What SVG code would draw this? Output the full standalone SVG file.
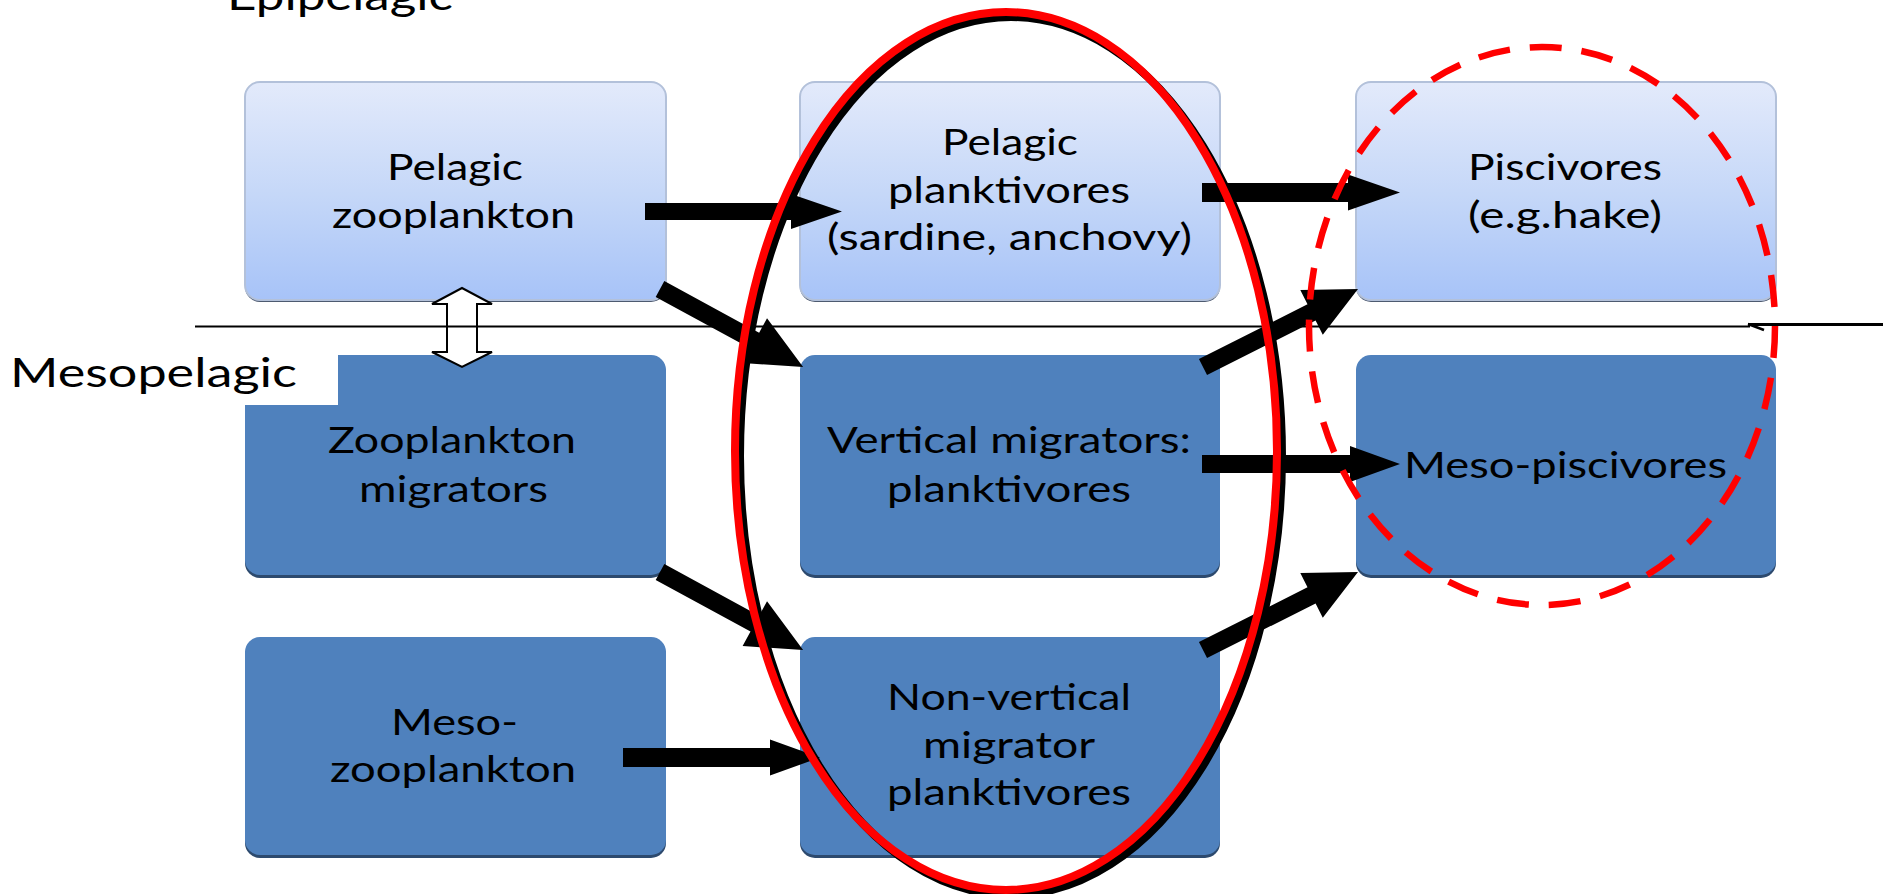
<svg xmlns="http://www.w3.org/2000/svg" width="1883" height="894" viewBox="0 0 1883 894">
<defs>
<linearGradient id="gLight" x1="0" y1="0" x2="0" y2="1">
<stop offset="0" stop-color="#e3eafb"/>
<stop offset="0.5" stop-color="#c6d8f8"/>
<stop offset="1" stop-color="#a7c3f8"/>
</linearGradient>
</defs>
<style>
.shL{fill:#4d5a70}
.boxL{fill:url(#gLight);stroke:#b3c1da;stroke-width:2}
.shD{fill:#2d4a6e}
.boxD{fill:#4f81bd}
.t{font-family:Lato,"Open Sans","Liberation Sans",sans-serif;font-size:36px;fill:#000}
.tl{font-family:Lato,"Open Sans","Liberation Sans",sans-serif;font-size:41px;fill:#000}
.blk{fill:#000}
</style>
<rect width="1883" height="894" fill="#fff"/>

<text class="tl" x="227" y="10" textLength="226" lengthAdjust="spacingAndGlyphs">Epipelagic</text>

<g id="n-pelagic-zooplankton">
<rect class="shL" x="245" y="84" width="421" height="218" rx="15"/>
<rect class="boxL" x="245" y="82" width="421" height="218" rx="15"/>
<text class="t" x="387" y="180" textLength="136" lengthAdjust="spacingAndGlyphs">Pelagic</text>
<text class="t" x="332" y="228" textLength="243" lengthAdjust="spacingAndGlyphs">zooplankton</text>
</g>
<g id="n-pelagic-planktivores">
<rect class="shL" x="800" y="84" width="420" height="218" rx="15"/>
<rect class="boxL" x="800" y="82" width="420" height="218" rx="15"/>
<text class="t" x="942" y="155" textLength="136" lengthAdjust="spacingAndGlyphs">Pelagic</text>
<text class="t" x="888" y="203" textLength="242" lengthAdjust="spacingAndGlyphs">planktivores</text>
<text class="t" x="827" y="250" textLength="365" lengthAdjust="spacingAndGlyphs">(sardine, anchovy)</text>
</g>
<g id="n-piscivores">
<rect class="shL" x="1356" y="84" width="420" height="218" rx="15"/>
<rect class="boxL" x="1356" y="82" width="420" height="218" rx="15"/>
<text class="t" x="1468" y="180" textLength="194" lengthAdjust="spacingAndGlyphs">Piscivores</text>
<text class="t" x="1468" y="228" textLength="194" lengthAdjust="spacingAndGlyphs">(e.g.hake)</text>
</g>
<g id="n-zooplankton-migrators">
<rect class="shD" x="245" y="358" width="421" height="220" rx="15"/>
<rect class="boxD" x="245" y="355" width="421" height="220" rx="15"/>
<text class="t" x="328" y="453" textLength="248" lengthAdjust="spacingAndGlyphs">Zooplankton</text>
<text class="t" x="359" y="502" textLength="189" lengthAdjust="spacingAndGlyphs">migrators</text>
</g>
<g id="n-vertical-migrators">
<rect class="shD" x="800" y="358" width="420" height="220" rx="15"/>
<rect class="boxD" x="800" y="355" width="420" height="220" rx="15"/>
<text class="t" x="827" y="453" textLength="364" lengthAdjust="spacingAndGlyphs">Vertical migrators:</text>
<text class="t" x="887" y="502" textLength="244" lengthAdjust="spacingAndGlyphs">planktivores</text>
</g>
<g id="n-meso-piscivores">
<rect class="shD" x="1356" y="358" width="420" height="220" rx="15"/>
<rect class="boxD" x="1356" y="355" width="420" height="220" rx="15"/>
<text class="t" x="1404" y="478" textLength="323" lengthAdjust="spacingAndGlyphs">Meso-piscivores</text>
</g>
<g id="n-meso-zooplankton">
<rect class="shD" x="245" y="640" width="421" height="218" rx="15"/>
<rect class="boxD" x="245" y="637" width="421" height="218" rx="15"/>
<text class="t" x="391" y="735" textLength="127" lengthAdjust="spacingAndGlyphs">Meso-</text>
<text class="t" x="330" y="782" textLength="246" lengthAdjust="spacingAndGlyphs">zooplankton</text>
</g>
<g id="n-non-vertical">
<rect class="shD" x="800" y="640" width="420" height="218" rx="15"/>
<rect class="boxD" x="800" y="637" width="420" height="218" rx="15"/>
<text class="t" x="887" y="710" textLength="244" lengthAdjust="spacingAndGlyphs">Non-vertical</text>
<text class="t" x="923" y="758" textLength="172" lengthAdjust="spacingAndGlyphs">migrator</text>
<text class="t" x="887" y="805" textLength="244" lengthAdjust="spacingAndGlyphs">planktivores</text>
</g>

<g id="mesopelagic-label">
<rect x="0" y="343" width="338" height="62" fill="#fff"/>
<text class="tl" x="10" y="387" textLength="287" lengthAdjust="spacingAndGlyphs">Mesopelagic</text>
</g>

<g id="connectors">
<polygon points="462,288 492,304 477,304 477,352 492,352 462,367 432,352 447,352 447,304 432,304" fill="#fff" stroke="#000" stroke-width="2"/>
<line x1="195" y1="326.5" x2="1750" y2="326.5" stroke="#000" stroke-width="2"/>
<line x1="1883" y1="324.5" x2="1748" y2="324.5" stroke="#000" stroke-width="3"/>
<line x1="1748" y1="324" x2="1764" y2="330" stroke="#000" stroke-width="2.5"/>
<g transform="translate(645,211.5)"><polygon class="blk" points="0,-8.5 146,-8.5 146,-17.5 197,0 146,17.5 146,8.5 0,8.5"/></g>
<g transform="translate(1202,192.5)"><polygon class="blk" points="0,-9.5 146,-9.5 146,-18 198,0 146,18 146,9.5 0,9.5"/></g>
<g transform="translate(660,289) rotate(28.6)"><polygon class="blk" points="0,-9 108,-9 108,-25.5 163,0 108,25.5 108,9 0,9"/></g>
<g transform="translate(660,572) rotate(28.6)"><polygon class="blk" points="0,-9 108,-9 108,-25.5 163,0 108,25.5 108,9 0,9"/></g>
<g transform="translate(623,757.5)"><polygon class="blk" points="0,-9.5 147,-9.5 147,-18 197,0 147,18 147,9.5 0,9.5"/></g>
<g transform="translate(1203,367) rotate(-26.7)"><polygon class="blk" points="0,-9 121.5,-9 121.5,-25 173.5,0 121.5,25 121.5,9 0,9"/></g>
<g transform="translate(1203,650) rotate(-26.7)"><polygon class="blk" points="0,-9 121.5,-9 121.5,-25 173.5,0 121.5,25 121.5,9 0,9"/></g>
<g transform="translate(1202,464)"><polygon class="blk" points="0,-9 148,-9 148,-18 198,0 148,18 148,9 0,9"/></g>
</g>

<g id="highlight-planktivores">
<ellipse cx="1011" cy="456" rx="271" ry="439" fill="none" stroke="#000" stroke-width="8"/>
<ellipse cx="1006" cy="451" rx="271" ry="439" fill="none" stroke="#ff0000" stroke-width="8"/>
</g>
<g id="highlight-piscivores">
<ellipse cx="1542" cy="326" rx="233" ry="279" fill="none" stroke="#ff0000" stroke-width="6.5" stroke-dasharray="32 20"/>
</g>
</svg>
